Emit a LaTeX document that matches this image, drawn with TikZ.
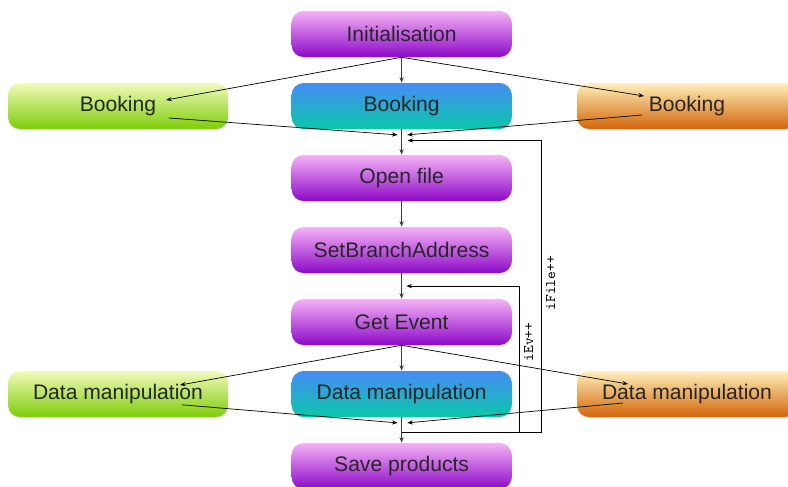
\documentclass[tikz,border=0pt]{standalone}
\usepackage{fontspec}
\setmainfont{Liberation Sans}
\usetikzlibrary{calc,shadows,arrows.meta}
\definecolor{purpTop}{RGB}{246,178,246}
\definecolor{purpBot}{RGB}{140,10,200}
\definecolor{tealTop}{RGB}{70,140,245}
\definecolor{tealBot}{RGB}{10,200,170}
\definecolor{limeTop}{RGB}{242,250,185}
\definecolor{limeBot}{RGB}{125,205,10}
\definecolor{amberTop}{RGB}{255,240,185}
\definecolor{amberBot}{RGB}{210,100,10}
\definecolor{lineGrey}{RGB}{60,60,60}

\begin{document}
\begin{tikzpicture}[
  box/.style={rounded corners=0.3cm,minimum width=5.5cm,minimum height=1.15cm,text=black!85,
    font=\fontsize{15}{18}\selectfont,
    drop shadow={opacity=0.2,shadow xshift=0.3pt,shadow yshift=-1pt}},
  purplebox/.style={box,top color=purpTop,bottom color=purpBot},
  tealbox/.style={box,top color=tealTop,bottom color=tealBot},
  limebox/.style={box,top color=limeTop,bottom color=limeBot},
  amberbox/.style={box,top color=amberTop,bottom color=amberBot},
  flow/.style={-{Stealth[length=4pt,width=3pt]},line width=0.6pt,lineGrey},
  link/.style={-{Stealth[length=4pt,width=3pt]},line width=0.5pt,black},
  looplabel/.style={rotate=90,anchor=north,font=\ttfamily\fontsize{10.5}{12}\selectfont}
]
\clip (0,0) rectangle (19.7,-12.15);

% main column
\node[purplebox] (init) at (10.04,-0.85) {Initialisation};
\node[tealbox] (book) at (10.04,-2.65) {Booking};
\node[purplebox] (open) at (10.04,-4.45) {Open file};
\node[purplebox] (branch) at (10.04,-6.25) {SetBranchAddress};
\node[purplebox] (getev) at (10.04,-8.05) {Get Event};
\node[tealbox] (dm) at (10.04,-9.85) {Data manipulation};
\node[purplebox] (save) at (10.04,-11.65) {Save products};

% side boxes
\node[limebox] (bookL) at (2.95,-2.65) {Booking};
\node[amberbox] (bookR) at (17.175,-2.65) {Booking};
\node[limebox] (dmL) at (2.95,-9.85) {Data manipulation};
\node[amberbox] (dmR) at (17.175,-9.85) {Data manipulation};

% join points under the middle boxes
\coordinate (j1) at ($(book.south)+(0,-0.14)$);
\coordinate (j2) at ($(dm.south)+(0,-0.14)$);
\coordinate (j3) at ($(dm.south)+(0,-0.37)$);

% booking row
\draw[flow] (init.south) -- (book.north);
\draw[link] (init.south) -- ($(bookL.center)+(1.2,0.15)$);
\draw[link] (init.south) -- ($(bookR.center)+(-1.075,0.25)$);
\draw[link] ($(bookL.center)+(1.275,-0.3)$) -- ($(j1)+(-0.1,0)$);
\draw[link] ($(bookR.center)+(-1.125,-0.225)$) -- ($(j1)+(0.14,0)$);
\draw[flow] (book.south) -- (open.north);
\draw[flow] (open) -- (branch);
\draw[flow] (branch) -- (getev);

% data manipulation row
\draw[flow] (getev.south) -- (dm.north);
\draw[link] (getev.south) -- ($(dmL.center)+(1.55,0.225)$);
\draw[link] (getev.south) -- ($(dmR.center)+(-1.475,0.25)$);
\draw[link] ($(dmL.center)+(1.6,-0.27)$) -- ($(j2)+(-0.1,0)$);
\draw[link] ($(dmR.center)+(-1.6,-0.225)$) -- ($(j2)+(0.14,0)$);
\draw[flow] (dm.south) -- (save.north);

% loops
\draw[link] (j3) -- ++(3.49,0) coordinate (c1) |- ($(j1)+(0.15,-0.14)$);
\draw[link] ($(j3)+(2.94,0)$) coordinate (c2) |- ($(branch.south)+(0.12,-0.32)$);
\node[looplabel] (ifile) at ($(c1)+(0,3.72)$) {iFile++};
\node[looplabel] (iev) at ($(c2)+(0,2.25)$) {iEv++};
\end{tikzpicture}
\end{document}
